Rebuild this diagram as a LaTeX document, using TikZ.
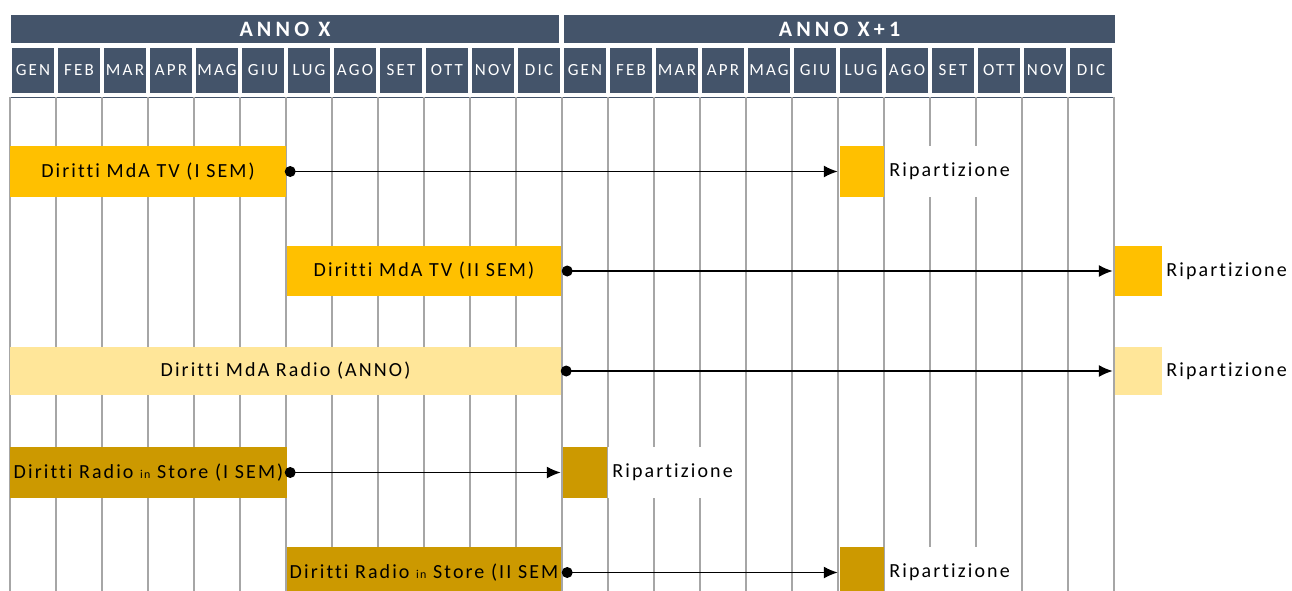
\documentclass[tikz,border=0pt]{standalone}
\usepackage{fontspec}
\setmainfont{Carlito}
\newfontfamily\barfont[LetterSpace=10.5,Ligatures=NoCommon]{Carlito}
\newfontfamily\monthfont[LetterSpace=13,Ligatures=NoCommon]{Carlito}
\newfontfamily\yearfont[LetterSpace=19]{Carlito}
\usetikzlibrary{arrows.meta}
\definecolor{headslate}{HTML}{44546A}
\definecolor{gridgray}{HTML}{A6A6A6}
\definecolor{tvgold}{HTML}{FFC000}
\definecolor{radiocream}{HTML}{FFE699}
\definecolor{storeochre}{HTML}{CC9900}

\begin{document}
\begin{tikzpicture}[
        x=1pt,y=-1pt,
        >=Latex,
        year/.style={fill=headslate,text=white,minimum height=28pt,inner sep=0pt,
          font=\yearfont\fontsize{22}{26}\selectfont\bfseries},
        month/.style={fill=headslate,text=white,minimum width=42pt,minimum height=45pt,
          inner sep=0pt,font=\monthfont\fontsize{17}{20}\selectfont},
        gridline/.style={draw=gridgray,line width=2pt},
        bar/.style={inner xsep=-8pt,inner ysep=0pt,text=black,
          font=\barfont\fontsize{20}{24}\selectfont},
        payout/.style={inner sep=0pt,minimum width=45pt},
        payoutlabel/.style={anchor=west,fill=white,inner xsep=4pt,inner ysep=0pt,
          font=\barfont\fontsize{20}{24}\selectfont},
        dot/.style={circle,fill=black,inner sep=0pt,minimum size=11pt},
        flow/.style={-{Latex[length=14pt,width=12pt]},line width=1.5pt,shorten >=2pt}
      ]
        \clip (0,0) rectangle (1292,591);

        \node[year,minimum width=548pt] (annox) at (285,29) {ANNO X};
        \node[year,minimum width=551pt] (annoy) at (839.5,29) {ANNO X+1};
        \foreach \m [count=\k from 0] in {GEN,FEB,MAR,APR,MAG,GIU,LUG,AGO,SET,OTT,NOV,DIC,
          GEN,FEB,MAR,APR,MAG,GIU,LUG,AGO,SET,OTT,NOV,DIC}
          \node[month] (m\k) at ({33+46*\k},70.5) {\m};

        \draw[headslate,line width=1pt] (10,97.5) -- (1114,97.5);
        \foreach \k in {0,...,24}
          \draw[gridline] ({10+46*\k},97) -- ({10+46*\k},591);

        % TV primo semestre
        \node[bar,fill=tvgold,minimum width=276pt,minimum height=51pt] (tvone) at (148,171.5)
          {Diritti MdA TV (I SEM)};
        \node[payout,fill=tvgold,minimum width=44pt,minimum height=51pt] (tvonebox) at (862,171.5) {};
        \node[payoutlabel,minimum height=51pt] (tvonelbl) at ([xshift=1pt]tvonebox.east) {Ripartizione};
        \node[dot] (tvonedot) at ([xshift=4pt]tvone.east) {};
        \draw[flow] (tvonedot.center) -- (tvonebox.west);

        % TV secondo semestre
        \node[bar,fill=tvgold,minimum width=274pt,minimum height=50pt] (tvtwo) at (424,271)
          {Diritti MdA TV (II SEM)};
        \node[payout,fill=tvgold,minimum width=47pt,minimum height=50pt] (tvtwobox) at (1138.5,271) {};
        \node[payoutlabel,minimum height=50pt] (tvtwolbl) at (tvtwobox.east) {Ripartizione};
        \node[dot] (tvtwodot) at ([xshift=6pt]tvtwo.east) {};
        \draw[flow] (tvtwodot.center) -- (tvtwobox.west);

        % Radio anno
        \node[bar,fill=radiocream,minimum width=551pt,minimum height=48pt] (radio) at (285.5,371)
          {Diritti MdA Radio (ANNO)};
        \node[payout,fill=radiocream,minimum width=47pt,minimum height=48pt] (radiobox) at (1138.5,371) {};
        \node[payoutlabel,minimum height=48pt] (radiolbl) at (radiobox.east) {Ripartizione};
        \node[dot] (radiodot) at ([xshift=5pt]radio.east) {};
        \draw[flow] (radiodot.center) -- (radiobox.west);

        % Radio in Store primo semestre
        \node[bar,fill=storeochre,minimum width=277pt,minimum height=51pt] (storeone) at (148.5,472.5)
          {Diritti Radio {\fontsize{12}{14}\selectfont in} Store (I SEM)};
        \node[payout,fill=storeochre,minimum width=44pt,minimum height=51pt] (storeonebox) at (585,472.5) {};
        \node[payoutlabel,minimum height=51pt] (storeonelbl) at ([xshift=1pt]storeonebox.east) {Ripartizione};
        \node[dot] (storeonedot) at ([xshift=3pt]storeone.east) {};
        \draw[flow] (storeonedot.center) -- (storeonebox.west);

        % Radio in Store secondo semestre
        \node[bar,fill=storeochre,minimum width=274pt,minimum height=51pt] (storetwo) at (424,572.5)
          {Diritti Radio {\fontsize{12}{14}\selectfont in} Store (II SEM};
        \node[payout,fill=storeochre,minimum width=44pt,minimum height=51pt] (storetwobox) at (862,572.5) {};
        \node[payoutlabel,minimum height=51pt] (storetwolbl) at ([xshift=1pt]storetwobox.east) {Ripartizione};
        \node[dot] (storetwodot) at ([xshift=6pt]storetwo.east) {};
        \draw[flow] (storetwodot.center) -- (storetwobox.west);
      \end{tikzpicture}
\end{document}
